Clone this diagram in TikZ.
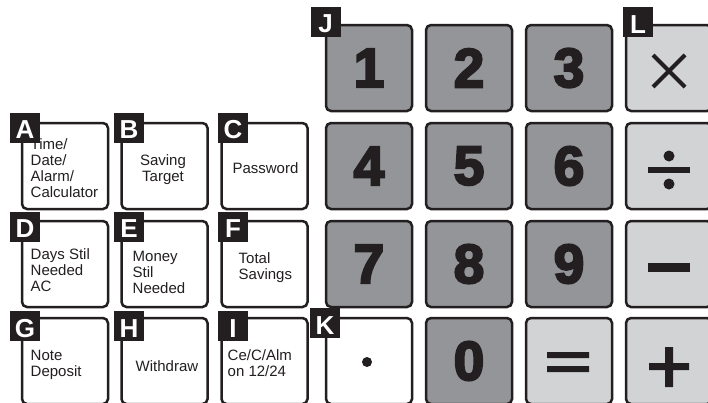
\documentclass[tikz,border=0pt]{standalone}
\usepackage{fontspec}
\setmainfont{Liberation Sans}
\newfontfamily\keyfont{Liberation Sans}[BoldFeatures={FakeBold=4}]
\definecolor{ink}{HTML}{231F20}
\definecolor{numgray}{HTML}{939598}
\definecolor{opgray}{HTML}{D1D3D4}
\tikzset{
  key/.style={draw=ink, line width=2.5pt, rounded corners=5pt, minimum width=86pt, minimum height=86pt, inner sep=0pt, text=ink},
  fnkey/.style={key, fill=white},
  numkey/.style={key, fill=numgray, font=\keyfont\bfseries\fontsize{55}{55}\selectfont},
  opkey/.style={key, fill=opgray},
  tag/.style={fill=ink, minimum size=30pt, inner sep=0pt, text=white, font=\bfseries\fontsize{26}{26}\selectfont, text height=22.6pt, text depth=0pt},
  keytext/.style={inner sep=0pt, text=ink, font=\fontsize{15}{16}\selectfont},
  sym/.style={fill=ink, draw=none},
}
\begin{document}
\begin{tikzpicture}[x=1pt,y=-1pt]
\clip (0,0) rectangle (708,402);
\fill[white] (0,0) rectangle (708,402);
% function keys
\node[fnkey] (A) at (65,166) {};
\node[fnkey] (B) at (164.5,166) {};
\node[fnkey] (C) at (264.5,166) {};
\node[fnkey] (D) at (65,264) {};
\node[fnkey] (E) at (164.5,264) {};
\node[fnkey] (F) at (264.5,264) {};
\node[fnkey] (G) at (65,361) {};
\node[fnkey] (H) at (164.5,361) {};
\node[fnkey] (I) at (264.5,361) {};
% number keys
\node[numkey] (n1) at (369,68) {1};
\node[numkey] (n2) at (469,68) {2};
\node[numkey] (n3) at (569,68) {3};
\node[opkey] (mul) at (669,68) {};
\node[numkey] (n4) at (369,166) {4};
\node[numkey] (n5) at (469,166) {5};
\node[numkey] (n6) at (569,166) {6};
\node[opkey] (div) at (669,166) {};
\node[numkey] (n7) at (369,264) {7};
\node[numkey] (n8) at (469,264) {8};
\node[numkey] (n9) at (569,264) {9};
\node[opkey] (minus) at (669,264) {};
\node[fnkey] (dot) at (369,361) {};
\node[numkey] (n0) at (469,361) {0};
\node[opkey] (eq) at (569,361) {};
\node[opkey] (plus) at (669,361) {};
% key texts (base anchor = baseline of the last line)
\node[keytext, align=left, anchor=base west] (At) at (30.5,197) {Time/\\Date/\\Alarm/\\Calculator};
\node[keytext, align=center, anchor=base] (Bt) at (163,181) {Saving\\Target};
\node[keytext, anchor=base] (Ct) at (265.5,173.3) {Password};
\node[keytext, align=left, anchor=base west] (Dt) at (30.5,291) {Days Stil\\Needed\\AC};
\node[keytext, align=left, anchor=base west] (Et) at (132.5,293) {Money\\Stil\\Needed};
\node[keytext, align=left, anchor=base west] (Ft) at (238.5,279) {Total\\Savings};
\node[keytext, align=left, anchor=base west] (Gt) at (30.5,376.5) {Note\\Deposit};
\node[keytext, anchor=base] (Ht) at (167,371) {Withdraw};
\node[keytext, align=left, anchor=base west] (It) at (227.5,376.5) {Ce/C/Alm\\on 12/24};
% operator symbols
\begin{scope}[shift={(mul.center)}]
  \draw[ink, line width=4pt] (-16,-13) -- (16,19) (-16,19) -- (16,-13);
\end{scope}
\begin{scope}[shift={(div.center)}]
  \fill[sym] (-21,1) rectangle (21,7);
  \fill[sym] (0,-10) circle (5.5) (0,18) circle (5.5);
\end{scope}
\begin{scope}[shift={(minus.center)}]
  \fill[sym] (-21,-1) rectangle (21,8);
\end{scope}
\begin{scope}[shift={(eq.center)}]
  \fill[sym] (-22,-9) rectangle (20,-3) (-22,5) rectangle (20,11);
\end{scope}
\begin{scope}[shift={(plus.center)}]
  \fill[sym] (-20,2) rectangle (20,9) (-4,-14) rectangle (4,26);
\end{scope}
\begin{scope}[shift={(dot.center)}]
  \fill[sym] (-2,1) circle (5);
\end{scope}
% tags
\node[tag] (tA) at (25,127.5) {A};
\node[tag] (tB) at (129,127.5) {B};
\node[tag] (tC) at (233,127.5) {C};
\node[tag] (tD) at (25,226.5) {D};
\node[tag] (tE) at (129,226.5) {E};
\node[tag] (tF) at (233,226.5) {F};
\node[tag] (tG) at (25,326) {G};
\node[tag] (tH) at (129,326) {H};
\node[tag] (tI) at (233,326) {I};
\node[tag] (tJ) at (325.5,21.5) {J};
\node[tag] (tK) at (325,323) {K};
\node[tag] (tL) at (638,22) {L};
\end{tikzpicture}
\end{document}
